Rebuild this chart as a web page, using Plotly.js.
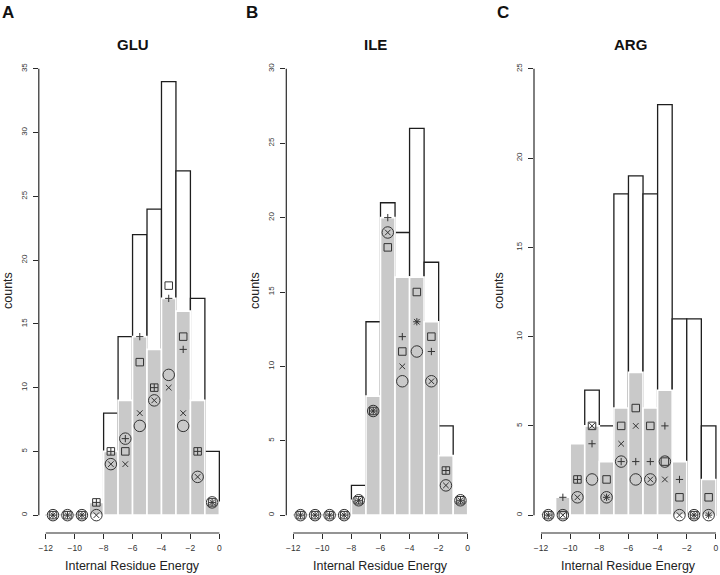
<!DOCTYPE html>
<html><head><meta charset="utf-8">
<script src="https://cdn.plot.ly/plotly-3.0.1.min.js"></script>
<style>html,body{margin:0;padding:0;background:#fff}#chart{width:720px;height:575px}</style>
</head><body><div id="chart"></div>
<script>
// ---- data ----
const binCenters = [-11.5,-10.5,-9.5,-8.5,-7.5,-6.5,-5.5,-4.5,-3.5,-2.5,-1.5,-0.5];
const xTickVals = [-12,-10,-8,-6,-4,-2,0];
const panelLetters = ["A","B","C"];
const residues = ["GLU","ILE","ARG"];
const xTitle = "Internal Residue Energy";
const yTitle = "counts";

const gluOutline = [0,0,0,0,8,14,22,24,34,27,17,5];
const gluGray    = [0,0,0,1,5,9,14,13,17,16,9,1];
const gluSquare  = [0,0,0,1,5,5,12,10,18,14,5,1];
const gluPlus    = [0,0,0,1,5,6,14,10,17,13,5,1];
const gluCircle  = [0,0,0,0,4,6,7,9,11,7,3,1];
const gluCross   = [0,0,0,0,4,4,8,9,10,8,3,1];
const gluYTicks  = [0,5,10,15,20,25,30,35];

const ileOutline = [0,0,0,0,2,13,21,19,26,17,6,0];
const ileGray    = [0,0,0,0,1,8,20,16,16,13,4,1];
const ileSquare  = [0,0,0,0,1,7,18,11,15,12,3,1];
const ilePlus    = [0,0,0,0,1,7,20,12,13,11,3,1];
const ileCircle  = [0,0,0,0,1,7,19,9,11,9,2,1];
const ileCross   = [0,0,0,0,1,7,19,10,13,9,2,1];
const ileYTicks  = [0,5,10,15,20,25,30];

const argOutline = [0,0,0,7,5,18,19,18,23,11,11,5];
const argGray    = [0,1,4,5,3,6,8,6,7,3,0,2];
const argSquare  = [0,0,2,5,2,5,6,5,3,1,0,1];
const argPlus    = [0,1,2,4,1,3,3,3,5,2,0,0];
const argCircle  = [0,0,1,2,1,3,2,2,3,0,0,0];
const argCross   = [0,0,1,5,1,4,5,2,2,0,0,0];
const argYTicks  = [0,5,10,15,20,25];

// ---- layout helpers ----
const W = 720, H = 575;
const px = v => v / W;
const py = v => 1 - v / H;
const FONT = "Liberation Sans, Arial, Helvetica, sans-serif";
const INK = "#2a2a2a";

const panels = [
  {out: gluOutline, gray: gluGray, sq: gluSquare, pl: gluPlus, ci: gluCircle, cr: gluCross, yt: gluYTicks,
   dom: [38.8, 226.3], xr: [-12.48, 0.48], yr: [-1.4, 36.4], letterX: 8, titleX: 133, yTitleX: 8},
  {out: ileOutline, gray: ileGray, sq: ileSquare, pl: ilePlus, ci: ileCircle, cr: ileCross, yt: ileYTicks,
   dom: [286.3, 474.7], xr: [-12.48, 0.48], yr: [-1.2, 31.2], letterX: 252, titleX: 375, yTitleX: 255},
  {out: argOutline, gray: argGray, sq: argSquare, pl: argPlus, ci: argCircle, cr: argCross, yt: argYTicks,
   dom: [534, 720], xr: [-12.48, 0.28], yr: [-1, 26], letterX: 503, titleX: 630, yTitleX: 499}
];

const yDom = [py(533), py(51)];
const traces = [];
const layout = {
  width: W, height: H, margin: {l:0, r:0, t:0, b:0},
  paper_bgcolor: "#fff", plot_bgcolor: "rgba(0,0,0,0)",
  showlegend: false, barmode: "overlay",
  font: {family: FONT, color: INK},
  shapes: [], annotations: []
};

panels.forEach((p, i) => {
  const sfx = i === 0 ? "" : String(i + 1);
  const xa = "x" + sfx, ya = "y" + sfx;
  traces.push({type: "bar", x: binCenters, y: p.out, width: 1, xaxis: xa, yaxis: ya,
    marker: {color: "#ffffff", line: {color: "#1e1e1e", width: 1.3}}, hoverinfo: "skip"});
  traces.push({type: "bar", x: binCenters, y: p.gray, width: 1, xaxis: xa, yaxis: ya,
    marker: {color: "#c9c9c9", line: {color: "#ffffff", width: 1.6}}, hoverinfo: "skip"});
  const mk = (vals, sym, size) => ({type: "scatter", mode: "markers", x: binCenters, y: vals,
    xaxis: xa, yaxis: ya, cliponaxis: false,
    marker: {symbol: sym, size: size, color: "#333", line: {color: "#333", width: 1}}});
  traces.push(mk(p.sq, "square-open", 7.5));
  traces.push(mk(p.ci, "circle-open", 11.5));
  traces.push(mk(p.pl, "cross-thin-open", 5.2));
  traces.push(mk(p.cr, "x-thin-open", 5.6));

  layout["xaxis" + sfx] = {domain: [px(p.dom[0]), Math.min(1, px(p.dom[1]))], range: p.xr, anchor: ya,
    showgrid: false, zeroline: false, showline: false, ticks: "outside", ticklen: 5, tickwidth: 1,
    tickcolor: INK, tickvals: xTickVals, ticktext: xTickVals.map(v => v < 0 ? "\u2212" + (-v) : String(v)),
    tickfont: {size: 8.5, color: "#333", family: FONT}, ticklabelstandoff: 2, fixedrange: true};
  layout["yaxis" + sfx] = {domain: yDom, range: p.yr, anchor: xa,
    showgrid: false, zeroline: false, showline: false, ticks: "outside", ticklen: 5, tickwidth: 1,
    tickcolor: INK, tickvals: p.yt, tickangle: -90,
    tickfont: {size: 8, color: "#333", family: FONT}, ticklabelstandoff: 3, fixedrange: true};

  layout.shapes.push({type: "line", xref: xa, yref: ya + " domain", x0: xTickVals[0], x1: xTickVals[xTickVals.length-1],
    y0: 0, y1: 0, line: {color: INK, width: 1.2}});
  layout.shapes.push({type: "line", xref: xa + " domain", yref: ya, x0: 0, x1: 0,
    y0: p.yt[0], y1: p.yt[p.yt.length-1], line: {color: INK, width: 1.2}});

  layout.annotations.push({xref: "paper", yref: "paper", x: px(p.letterX), y: py(12), text: "<b>" + panelLetters[i] + "</b>",
    showarrow: false, xanchor: "center", yanchor: "middle", font: {size: 17, color: "#111", family: FONT}});
  layout.annotations.push({xref: "paper", yref: "paper", x: px(p.titleX), y: py(44), text: "<b>" + residues[i] + "</b>",
    showarrow: false, xanchor: "center", yanchor: "middle", font: {size: 15, color: "#111", family: FONT}});
  layout.annotations.push({xref: "paper", yref: "paper", x: px(p.yTitleX), y: py(291), text: yTitle, textangle: -90,
    showarrow: false, xanchor: "center", yanchor: "middle", font: {size: 12.5, color: "#222", family: FONT}});
  layout.annotations.push({xref: xa, yref: "paper", x: -6, y: py(566), text: xTitle,
    showarrow: false, xanchor: "center", yanchor: "middle", font: {size: 12.5, color: "#222", family: FONT}});
});

Plotly.newPlot("chart", traces, layout, {displayModeBar: false, staticPlot: true});
</script>
</body></html>
